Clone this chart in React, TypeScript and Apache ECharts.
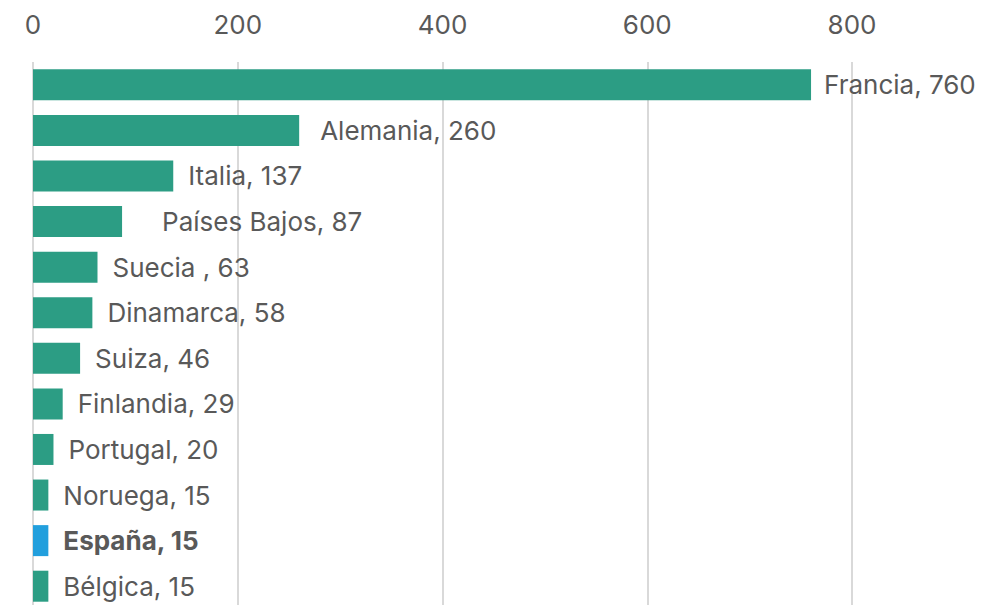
import React, { useEffect, useRef } from "react";
import * as echarts from "echarts";

const categories = [
  "Francia",
  "Alemania",
  "Italia",
  "Países Bajos",
  "Suecia ",
  "Dinamarca",
  "Suiza",
  "Finlandia",
  "Portugal",
  "Noruega",
  "España",
  "Bélgica",
];
const values = [760, 260, 137, 87, 63, 58, 46, 29, 20, 15, 15, 15];
const highlighted = "España";
const xTicks = [0, 200, 400, 600, 800];

const labelGap: Record<string, number> = {
  Francia: 13,
  Alemania: 21,
  "Países Bajos": 40,
};

const GREEN = "#2C9D84";
const BLUE = "#229FDD";
const TEXT = "#595959";
const FONT = "Inter, 'DejaVu Sans', sans-serif";

export default function App() {
  const ref = useRef<HTMLDivElement>(null);
  useEffect(() => {
    document.body.style.margin = "0";
    const chart = echarts.init(ref.current!, null, { renderer: "svg" });
    const data = categories.map((c, i) => {
      const isHi = c === highlighted;
      return {
        value: values[i],
        itemStyle: { color: isHi ? BLUE : GREEN },
        label: {
          distance: labelGap[c] ?? 15,
          fontWeight: isHi ? "bold" : "normal",
        },
      };
    });
    chart.setOption({
      animation: false,
      grid: {
        left: 33,
        right: 144,
        top: 62,
        height: 547,
        containLabel: false,
        outerBoundsMode: "none",
      },
      xAxis: {
        type: "value",
        position: "top",
        min: xTicks[0],
        max: xTicks[xTicks.length - 1],
        interval: 200,
        axisLine: { show: false },
        axisTick: { show: false },
        axisLabel: {
          color: TEXT,
          fontSize: 26,
          fontFamily: FONT,
          margin: 25,
        },
        splitLine: { show: true, lineStyle: { color: "#D9D9D9", width: 2 } },
      },
      yAxis: {
        type: "category",
        data: categories,
        inverse: true,
        axisLine: { show: false },
        axisTick: { show: false },
        axisLabel: { show: false },
      },
      series: [
        {
          type: "bar",
          data,
          barWidth: 31,
          label: {
            show: true,
            position: "right",
            color: TEXT,
            fontSize: 26,
            fontFamily: FONT,
            formatter: (p: any) => `${p.name}, ${p.value}`,
          },
        },
      ],
    });
    return () => chart.dispose();
  }, []);
  return <div ref={ref} style={{ width: 996, height: 605 }} />;
}
